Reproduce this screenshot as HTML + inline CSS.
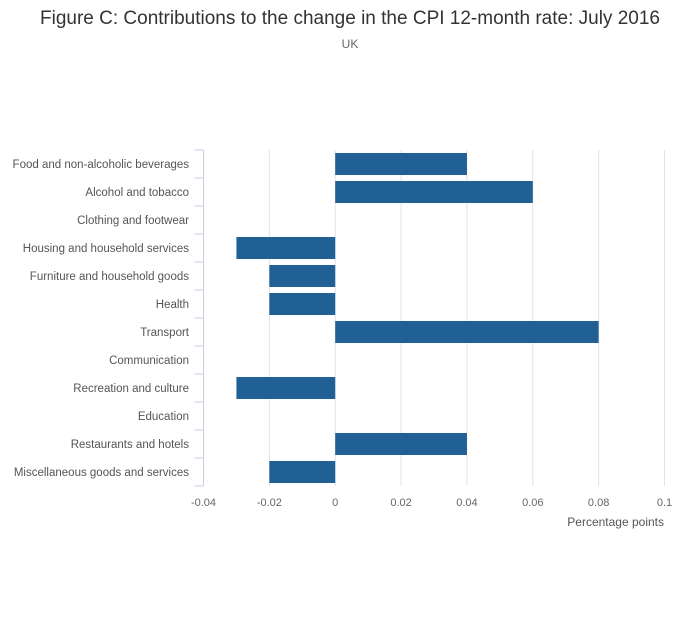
<!DOCTYPE html>
<html><head><meta charset="utf-8"><style>
body{margin:0;background:#fff;font-family:"Liberation Sans",sans-serif;}
svg text{font-family:"Liberation Sans",sans-serif;}
</style></head><body>
<svg width="700" height="635">
<text x="350" y="24" text-anchor="middle" font-size="19" fill="#333">Figure C: Contributions to the change in the CPI 12-month rate: July 2016</text>
<text x="350" y="48" text-anchor="middle" font-size="12" fill="#666">UK</text>
<g id="grid"></g><g id="bars"></g><g id="yaxis"></g><g id="xaxis"></g>
<text id="xtitle" x="664" y="526" text-anchor="end" font-size="12" fill="#555">Percentage points</text>
</svg>
<script>
const categories=["Food and non-alcoholic beverages","Alcohol and tobacco","Clothing and footwear","Housing and household services","Furniture and household goods","Health","Transport","Communication","Recreation and culture","Education","Restaurants and hotels","Miscellaneous goods and services"];
const values=[0.04,0.06,0,-0.03,-0.02,-0.02,0.08,0,-0.03,0,0.04,-0.02];
const xTicks=[-0.04,-0.02,0,0.02,0.04,0.06,0.08,0.1];
const xTickLabels=["-0.04","-0.02","0","0.02","0.04","0.06","0.08","0.1"];
const NS="http://www.w3.org/2000/svg";
const x0=203.5,x1=664.5,xmin=-0.04,xmax=0.1,yTop=150,rowH=28;
const X=v=>x0+(v-xmin)/(xmax-xmin)*(x1-x0);
function mk(t,a,p){const e=document.createElementNS(NS,t);for(const k in a)e.setAttribute(k,a[k]);p.appendChild(e);return e;}
const grid=document.getElementById('grid'),bars=document.getElementById('bars'),ya=document.getElementById('yaxis'),xa=document.getElementById('xaxis');
const yBottom=yTop+rowH*categories.length;
xTicks.forEach((t,i)=>{
 if(i>0){const g=mk('line',{x1:X(t),x2:X(t),y1:yTop,y2:yBottom,stroke:'#e3e3e3','stroke-width':1},grid);
 
 }
 const l=mk('text',{x:X(t),y:yBottom+20,'text-anchor':'middle','font-size':11,fill:'#666'},xa);l.textContent=xTickLabels[i];
 
 
});
const ax=mk('line',{x1:x0,x2:x0,y1:yTop,y2:yBottom,stroke:'#c5cde0','stroke-width':1},ya);


for(let i=0;i<=categories.length;i++){const tk=mk('line',{x1:x0-9,x2:x0,y1:yTop+i*rowH,y2:yTop+i*rowH,stroke:'#c5cde0','stroke-width':1},ya);
 
 }
categories.forEach((c,i)=>{
 const cy=yTop+i*rowH+rowH/2;
 const t=mk('text',{x:189,y:cy+4,'text-anchor':'end','font-size':11.5,fill:'#555'},ya);t.textContent=c;
 
 
 const v=values[i];if(v!==0){
 const b=mk('rect',{x:Math.min(X(0),X(v)),y:yTop+i*rowH+3,width:Math.abs(X(v)-X(0)),height:rowH-6,fill:'#206095'},bars);
 
 }
});
</script>
</body></html>
